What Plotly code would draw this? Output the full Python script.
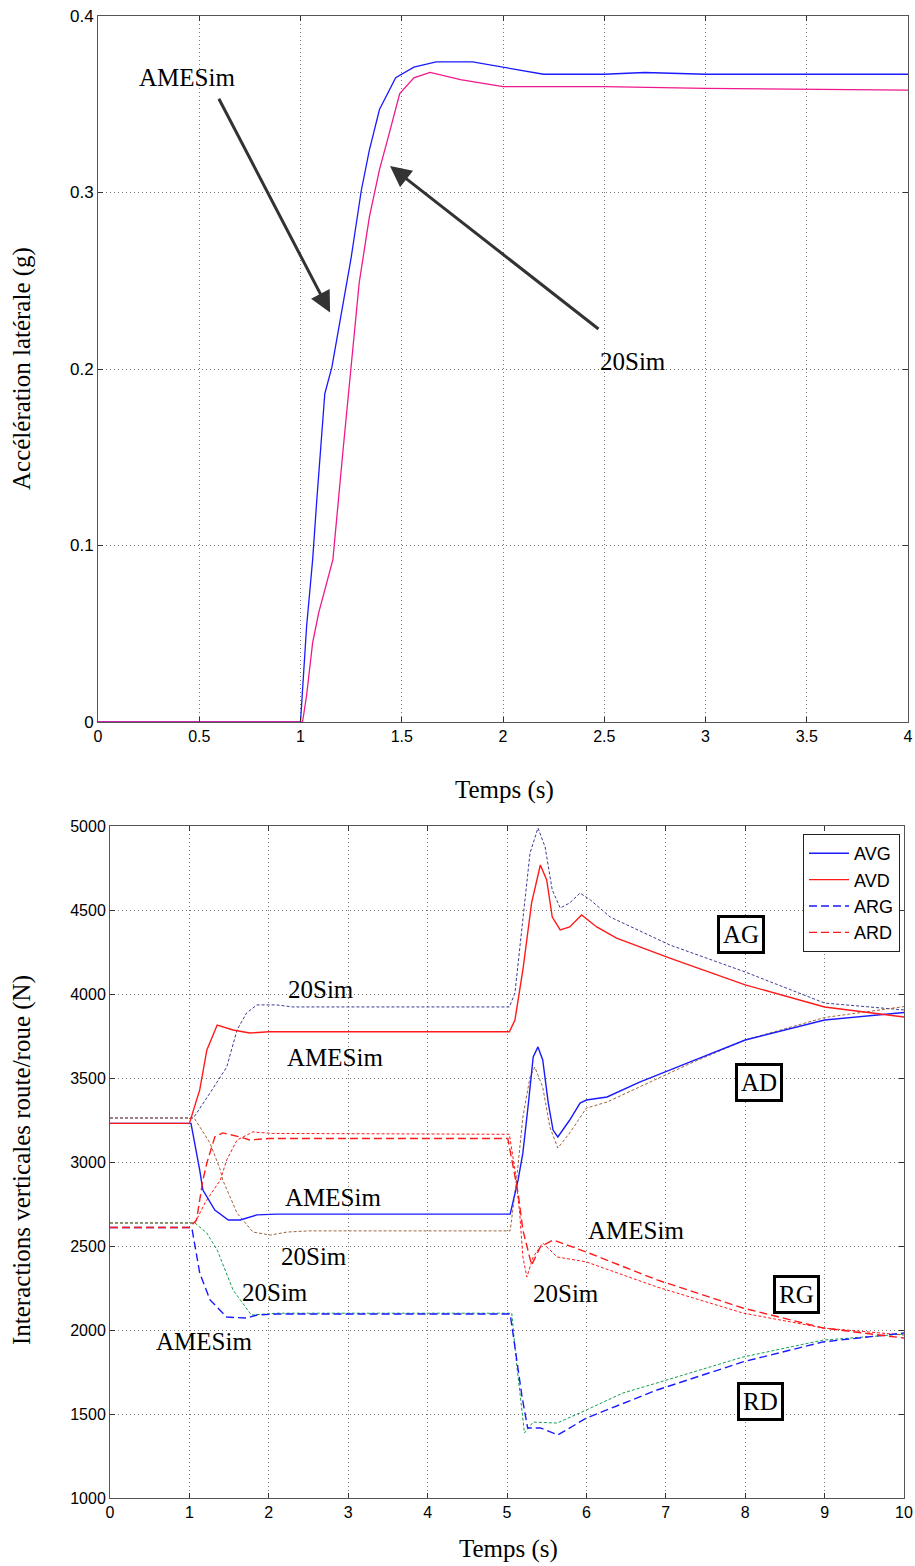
import plotly.graph_objects as go

# ---------------- top chart data ----------------
t_acc_ame = [0, 1.0, 1.03, 1.06, 1.08, 1.10, 1.12, 1.155, 1.205, 1.25, 1.30, 1.34, 1.39, 1.47, 1.56, 1.67, 1.85, 2.0, 2.2, 2.5, 2.7, 3.0, 4.0]
acc_ame = [0, 0, 0.054, 0.092, 0.125, 0.154, 0.186, 0.201, 0.233, 0.263, 0.301, 0.324, 0.347, 0.365, 0.371, 0.374, 0.374, 0.371, 0.367, 0.367, 0.368, 0.367, 0.367]
t_acc_20 = [0, 1.01, 1.03, 1.06, 1.09, 1.16, 1.21, 1.25, 1.29, 1.34, 1.39, 1.43, 1.49, 1.56, 1.64, 1.79, 1.89, 2.0, 2.5, 3.0, 4.0]
acc_20 = [0, 0, 0.015, 0.045, 0.062, 0.092, 0.154, 0.2, 0.249, 0.286, 0.313, 0.330, 0.356, 0.365, 0.368, 0.364, 0.362, 0.360, 0.360, 0.359, 0.358]
acc_ticks = [0, 0.1, 0.2, 0.3, 0.4]
acc_ticktext = ["0", "0.1", "0.2", "0.3", "0.4"]
t_ticks_top = [0, 0.5, 1, 1.5, 2, 2.5, 3, 3.5, 4]
t_ticktext_top = ["0", "0.5", "1", "1.5", "2", "2.5", "3", "3.5", "4"]

# ---------------- bottom chart data ----------------
# AG group
t_ag_ame = [0, 1.0, 1.13, 1.22, 1.35, 1.55, 1.76, 2.0, 5.03, 5.1, 5.2, 5.31, 5.42, 5.5, 5.57, 5.67, 5.79, 5.94, 6.13, 6.38, 7.05, 8.0, 9.0, 10.0]
f_ag_ame = [3230, 3230, 3429, 3667, 3815, 3786, 3768, 3775, 3775, 3845, 4143, 4542, 4768, 4679, 4458, 4381, 4399, 4470, 4399, 4333, 4214, 4054, 3923, 3863]
t_ag_20 = [0, 1.05, 1.26, 1.47, 1.6, 1.72, 1.85, 2.1, 2.3, 5.03, 5.1, 5.2, 5.29, 5.39, 5.48, 5.57, 5.67, 5.79, 5.92, 6.05, 6.3, 7.05, 8.0, 9.0, 10.0]
f_ag_20 = [3262, 3262, 3411, 3565, 3786, 3887, 3935, 3935, 3923, 3923, 4006, 4440, 4839, 4988, 4875, 4619, 4512, 4542, 4601, 4560, 4458, 4292, 4131, 3946, 3905]
# AD group
t_ad_ame = [0, 1.02, 1.13, 1.17, 1.32, 1.49, 1.64, 1.85, 2.1, 5.04, 5.14, 5.2, 5.27, 5.33, 5.39, 5.45, 5.52, 5.58, 5.64, 5.79, 5.92, 6.0, 6.26, 6.67, 7.3, 8.0, 9.0, 10.0]
f_ad_ame = [3230, 3230, 2952, 2833, 2714, 2655, 2655, 2685, 2690, 2690, 2893, 3054, 3351, 3625, 3685, 3607, 3351, 3190, 3149, 3250, 3351, 3369, 3387, 3476, 3595, 3726, 3845, 3890]
t_ad_20 = [0, 1.06, 1.26, 1.39, 1.42, 1.6, 1.8, 2.02, 2.23, 2.5, 5.04, 5.12, 5.2, 5.29, 5.35, 5.45, 5.54, 5.64, 5.79, 5.92, 6.0, 6.26, 6.67, 7.3, 8.0, 9.0, 10.0]
f_ad_20 = [3262, 3262, 3113, 2952, 2893, 2696, 2583, 2565, 2583, 2590, 2590, 2893, 3268, 3506, 3565, 3446, 3208, 3083, 3173, 3268, 3321, 3357, 3446, 3585, 3726, 3860, 3925]
# RG group
t_rg_ame = [0, 1.0, 1.09, 1.17, 1.22, 1.32, 1.42, 1.64, 1.76, 2.0, 5.01, 5.08, 5.14, 5.2, 5.31, 5.42, 5.58, 6.0, 6.89, 7.97, 8.98, 10.0]
f_rg_ame = [2610, 2610, 2655, 2893, 2994, 3149, 3173, 3149, 3131, 3140, 3140, 2952, 2815, 2595, 2387, 2494, 2536, 2464, 2298, 2131, 2012, 1952]
t_rg_20 = [0, 1.07, 1.2, 1.39, 1.47, 1.6, 1.8, 2.05, 5.03, 5.1, 5.16, 5.2, 5.25, 5.33, 5.45, 5.63, 6.0, 6.89, 7.97, 8.98, 10.0]
f_rg_20 = [2637, 2637, 2760, 2893, 3012, 3131, 3179, 3170, 3165, 2952, 2696, 2435, 2315, 2435, 2518, 2435, 2405, 2256, 2101, 2012, 1970]
# RD group
t_rd_ame = [0, 1.03, 1.13, 1.26, 1.47, 1.72, 1.85, 2.1, 5.04, 5.1, 5.19, 5.26, 5.42, 5.64, 6.0, 6.89, 7.97, 8.98, 10.0]
f_rd_ame = [2610, 2610, 2339, 2179, 2077, 2071, 2089, 2095, 2095, 1899, 1601, 1417, 1417, 1375, 1476, 1643, 1810, 1929, 1982]
t_rd_20 = [0, 1.07, 1.22, 1.35, 1.55, 1.78, 2.1, 5.06, 5.12, 5.19, 5.22, 5.33, 5.63, 6.0, 6.46, 6.89, 7.97, 8.98, 10.0]
f_rd_20 = [2637, 2637, 2577, 2476, 2238, 2089, 2100, 2100, 1804, 1506, 1387, 1452, 1446, 1524, 1625, 1685, 1839, 1940, 1976]
f_ticks = [1000, 1500, 2000, 2500, 3000, 3500, 4000, 4500, 5000]
t_ticks_bot = [0, 1, 2, 3, 4, 5, 6, 7, 8, 9, 10]

legend_names = ["AVG", "AVD", "ARG", "ARD"]

# text labels (bottom chart)
lbl_text = ["20Sim", "AMESim", "AMESim", "20Sim", "20Sim", "AMESim", "AMESim", "20Sim"]
lbl_x = [2.66, 2.83, 2.81, 2.57, 2.08, 1.18, 6.62, 5.74]
lbl_y = [4024, 3625, 2786, 2435, 2226, 1929, 2595, 2220]
box_text = ["AG", "AD", "RG", "RD"]
box_x = [7.95, 8.17, 8.64, 8.19]
box_y = [4357, 3476, 2214, 1577]

# page body margin is removed (post_script below), so the figure fills the window
OFF = 0
W, H = 915, 1566


def px(sx):
    return min(1.0, max(0.0, (sx - OFF) / W))


def py(sy):
    return min(1.0, max(0.0, 1 - (sy - OFF) / H))


SERIF = "Liberation Serif"
SANS = "Liberation Sans"

BLUE = "#1a1aff"
RED = "#ff1a1a"
MAGENTA = "#f0188c"
NAVY = "#3a3a96"
BROWN = "#a0643c"
GREEN = "#10a050"

fig = go.Figure()

# top
fig.add_trace(go.Scatter(x=t_acc_ame, y=acc_ame, mode="lines", line=dict(color=BLUE, width=1.3),
                         xaxis="x", yaxis="y", showlegend=False))
fig.add_trace(go.Scatter(x=t_acc_20, y=acc_20, mode="lines", line=dict(color=MAGENTA, width=1.3),
                         xaxis="x", yaxis="y", showlegend=False))

# bottom: 20Sim dotted (no legend)
for tx, fy, col in [(t_ag_20, f_ag_20, NAVY), (t_ad_20, f_ad_20, BROWN),
                    (t_rg_20, f_rg_20, RED), (t_rd_20, f_rd_20, GREEN)]:
    fig.add_trace(go.Scatter(x=tx, y=fy, mode="lines", line=dict(color=col, width=1, dash="3px,2px"),
                             xaxis="x2", yaxis="y2", showlegend=False))

# bottom: AMESim with legend
fig.add_trace(go.Scatter(x=t_ad_ame, y=f_ad_ame, mode="lines", name=legend_names[0],
                         line=dict(color=BLUE, width=1.4), xaxis="x2", yaxis="y2"))
fig.add_trace(go.Scatter(x=t_ag_ame, y=f_ag_ame, mode="lines", name=legend_names[1],
                         line=dict(color=RED, width=1.4), xaxis="x2", yaxis="y2"))
fig.add_trace(go.Scatter(x=t_rd_ame, y=f_rd_ame, mode="lines", name=legend_names[2],
                         line=dict(color=BLUE, width=1.4, dash="8px,4px"), xaxis="x2", yaxis="y2"))
fig.add_trace(go.Scatter(x=t_rg_ame, y=f_rg_ame, mode="lines", name=legend_names[3],
                         line=dict(color=RED, width=1.4, dash="8px,4px"), xaxis="x2", yaxis="y2"))

axis_common = dict(showline=True, linecolor="#555", linewidth=1, mirror="ticks",
                   ticks="inside", ticklen=5, tickcolor="#333",
                   showgrid=True, gridcolor="#777", griddash="1px,3px", gridwidth=1,
                   zeroline=False, automargin=False, ticklabeloverflow="allow")

fig.update_layout(
    width=W, height=H, autosize=False,
    margin=dict(l=0, r=0, t=0, b=0, pad=0),
    paper_bgcolor="white", plot_bgcolor="white",
    xaxis=dict(domain=[px(98), px(908)], range=[0, 4], tickvals=t_ticks_top, ticktext=t_ticktext_top,
               anchor="y", tickfont=dict(family=SANS, size=16, color="black"), **axis_common),
    yaxis=dict(domain=[py(722), py(16)], range=[0, 0.4], tickvals=acc_ticks, ticktext=acc_ticktext,
               anchor="x", tickfont=dict(family=SANS, size=17, color="black"), **axis_common),
    xaxis2=dict(domain=[px(110), px(904)], range=[0, 10], tickvals=t_ticks_bot, anchor="y2",
                tickfont=dict(family=SANS, size=16, color="black"), **axis_common),
    yaxis2=dict(domain=[py(1498), py(826)], range=[1000, 5000], tickvals=f_ticks, anchor="x2",
                tickfont=dict(family=SANS, size=16, color="black"), **axis_common),
    legend=dict(x=px(900), y=py(834), xanchor="right", yanchor="top",
                bgcolor="white", bordercolor="#222", borderwidth=1,
                font=dict(family=SANS, size=18, color="black"),
                tracegroupgap=0, itemwidth=40),
)

ann = []
title_font = dict(family=SERIF, size=25, color="black")
# axis titles
ann.append(dict(text="Temps (s)", x=px(505), y=py(790), xref="paper", yref="paper",
                xanchor="center", yanchor="middle", showarrow=False, font=title_font))
ann.append(dict(text="Accélération latérale (g)", x=px(22), y=py(369), xref="paper", yref="paper",
                xanchor="center", yanchor="middle", showarrow=False, textangle=-90, font=title_font))
ann.append(dict(text="Temps (s)", x=px(508), y=py(1549), xref="paper", yref="paper",
                xanchor="center", yanchor="middle", showarrow=False, font=title_font))
ann.append(dict(text="Interactions verticales route/roue (N)", x=px(22), y=py(1160),
                xref="paper", yref="paper", xanchor="center", yanchor="middle",
                showarrow=False, textangle=-90, font=title_font))

# top chart arrows + labels
ann.append(dict(text="AMESim", x=0.44, y=0.365, xref="x", yref="y", showarrow=False,
                xanchor="center", yanchor="middle", font=title_font))
ann.append(dict(text="20Sim", x=2.64, y=0.204, xref="x", yref="y", showarrow=False,
                xanchor="center", yanchor="middle", font=title_font))
ann.append(dict(text="", x=1.146, y=0.232, ax=0.593, ay=0.354, xref="x", yref="y", axref="x", ayref="y",
                showarrow=True, arrowhead=2, arrowsize=1.4, arrowwidth=3, arrowcolor="#333"))
ann.append(dict(text="", x=1.442, y=0.315, ax=2.479, ay=0.222, xref="x", yref="y", axref="x", ayref="y",
                showarrow=True, arrowhead=2, arrowsize=1.4, arrowwidth=3, arrowcolor="#333"))

# bottom labels
for t, x, y in zip(lbl_text, lbl_x, lbl_y):
    ann.append(dict(text=t, x=x, y=y, xref="x2", yref="y2", showarrow=False,
                    xanchor="center", yanchor="middle", font=title_font))
for t, x, y in zip(box_text, box_x, box_y):
    ann.append(dict(text=t, x=x, y=y, xref="x2", yref="y2", showarrow=False,
                    xanchor="center", yanchor="middle",
                    bordercolor="black", borderwidth=3, borderpad=3, bgcolor="white",
                    font=title_font))

fig.update_layout(annotations=ann)
fig.write_html("out.html", config={"displayModeBar": False},
               post_script="document.body.style.margin='0';document.documentElement.style.overflow='hidden';")
